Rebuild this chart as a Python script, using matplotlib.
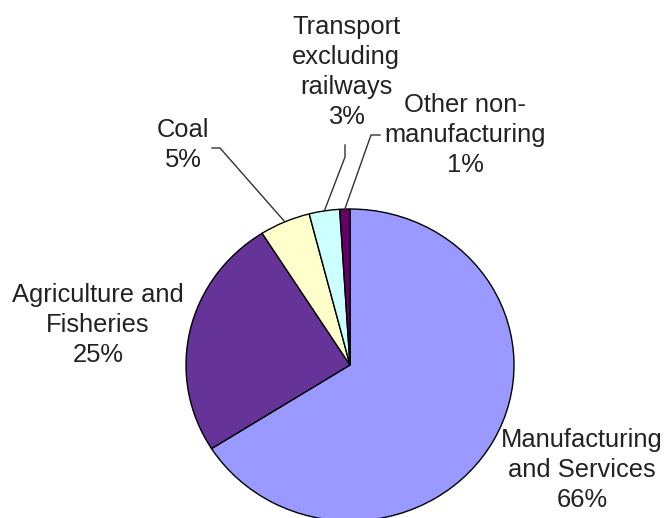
import numpy as np
import matplotlib
matplotlib.use("Agg")
import matplotlib.pyplot as plt

# shares (%) clockwise from 12 o'clock
labels = ["Manufacturing\nand Services", "Agriculture and\nFisheries", "Coal",
          "Transport\nexcluding\nrailways", "Other non-\nmanufacturing"]
shares = [66, 25, 5, 3, 1]
colors = ["#9999FF", "#663399", "#FFFFCC", "#CCFFFF", "#660066"]

W, H = 667, 518
plt.rcParams['font.family'] = ['Liberation Sans', 'DejaVu Sans']

fig = plt.figure(figsize=(W / 100, H / 100), dpi=100)

# pie axes (slightly wider than tall, as in the original)
cx, cy, rx, ry = 350, 365, 164, 156
ax_pie = fig.add_axes([(cx - rx) / W, (H - cy - ry) / H, 2 * rx / W, 2 * ry / H])
wedges, _ = ax_pie.pie(shares, colors=colors, startangle=90, counterclock=False,
                       radius=1, wedgeprops=dict(edgecolor="black", linewidth=1.0))
ax_pie.set_aspect('auto')
ax_pie.set_xlim(-1, 1)
ax_pie.set_ylim(-1, 1)
ax_pie.axis('off')

# overlay axes in pixel coordinates for labels and leader lines
ax = fig.add_axes([0, 0, 1, 1], zorder=3)
ax.set_xlim(0, W)
ax.set_ylim(H, 0)
ax.axis('off')
ax.patch.set_alpha(0)

# label block centres (pixels) and optional leader elbows
label_pos = [(582, 470), (98, 325), (183, 145), (346, 72), (465, 135)]
leaders = [None, None, [(212, 148), (220, 148)], [(345, 145), (345, 157)],
           [(380, 135), (371, 135)]]

def edge_point(w):
    ang = np.deg2rad((w.theta1 + w.theta2) / 2)
    disp = ax_pie.transData.transform((np.cos(ang), np.sin(ang)))
    return ax.transData.inverted().transform(disp)

for lab, val, (x, y), w, ld in zip(labels, shares, label_pos, wedges, leaders):
    ax.text(x, y, "{}\n{}%".format(lab, val), ha='center', va='center',
            fontsize=18.4, color='#222222', linespacing=1.3)
    if ld is not None:
        ex, ey = edge_point(w)
        xs = [p[0] for p in ld] + [ex]
        ys = [p[1] for p in ld] + [ey]
        ax.plot(xs, ys, color='#333333', lw=1.0)

fig.savefig("out.png", dpi=100)
